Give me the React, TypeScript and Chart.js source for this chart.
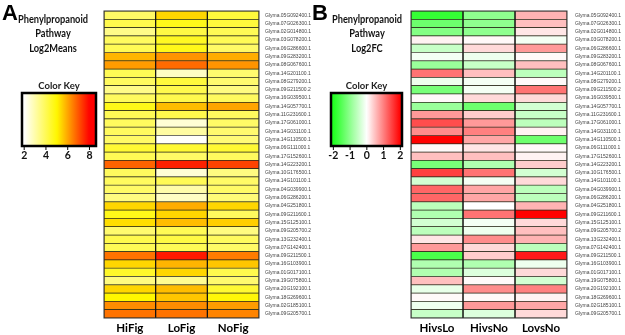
import React, { useEffect, useRef } from 'react';
import { Chart, registerables } from 'chart.js';
Chart.register(...registerables);

const genes = [
  'Glyma.05G092400.1', 'Glyma.07G026300.1', 'Glyma.02G014800.1', 'Glyma.03G078200.1',
  'Glyma.06G286600.1', 'Glyma.09G283200.1', 'Glyma.08G067600.1', 'Glyma.14G201100.1',
  'Glyma.08G279200.1', 'Glyma.09G211500.2', 'Glyma.16G039500.1', 'Glyma.14G057700.1',
  'Glyma.11G231600.1', 'Glyma.17G061000.1', 'Glyma.14G031100.1', 'Glyma.14G110500.1',
  'Glyma.06G111000.1', 'Glyma.17G152600.1', 'Glyma.14G223200.1', 'Glyma.10G176500.1',
  'Glyma.14G101100.1', 'Glyma.04G039900.1', 'Glyma.06G286200.1', 'Glyma.04G251800.1',
  'Glyma.09G211600.1', 'Glyma.15G125100.1', 'Glyma.09G205700.2', 'Glyma.13G232400.1',
  'Glyma.07G142400.1', 'Glyma.09G211500.1', 'Glyma.16G103900.1', 'Glyma.01G017100.1',
  'Glyma.19G075800.1', 'Glyma.20G192100.1', 'Glyma.18G269600.1', 'Glyma.02G185100.1',
  'Glyma.09G205700.1',
];

const colsA = ['HiFig', 'LoFig', 'NoFig'];
const hiFig = [3.8, 4.1, 3.4, 3.9, 4.0, 5.8, 6.1, 4.0, 3.9, 3.4, 3.9, 4.7, 4.0, 3.9, 3.9, 3.8, 4.4, 4.0, 6.8, 3.9, 3.9, 3.8, 3.5, 5.4, 4.7, 5.3, 3.7, 4.1, 4.0, 6.6, 5.4, 4.5, 3.5, 5.4, 5.0, 6.3, 6.6];
const loFig = [5.4, 4.7, 4.2, 4.6, 4.7, 6.2, 6.7, 2.7, 4.3, 4.1, 4.1, 5.7, 4.1, 2.5, 3.1, 2.05, 4.4, 3.8, 7.6, 2.5, 4.0, 3.0, 2.7, 5.9, 5.4, 5.7, 4.0, 4.2, 4.0, 7.7, 5.8, 5.4, 3.3, 5.7, 5.6, 6.3, 6.6];
const noFig = [4.3, 4.3, 4.0, 4.0, 3.8, 5.9, 6.2, 3.7, 3.7, 3.5, 3.9, 6.0, 3.9, 3.8, 3.7, 3.6, 4.4, 3.9, 7.2, 3.5, 3.8, 3.8, 3.6, 5.4, 3.9, 5.5, 3.5, 3.9, 3.8, 6.5, 5.6, 4.1, 3.7, 4.4, 4.9, 6.1, 6.4];

const colsB = ['HivsLo', 'HivsNo', 'LovsNo'];
const hivsLo = [-1.8, -1.3, -1.1, 0.1, -0.5, -0.1, -0.9, 1.1, -0.15, -1.2, 0.05, -0.9, 0.8, 1.4, 0.9, 2.0, 0.05, 0.5, -1.2, 1.5, -0.4, 1.2, 1.2, -0.6, -0.7, -0.4, -0.6, 0.2, 0.8, -1.6, -0.7, -0.7, 0.5, -0.2, 0.05, -0.15, -0.5];
const hivsNo = [-1.0, -1.0, -1.0, 0.05, 0.3, -0.15, -0.5, 0.5, -0.1, -0.1, 0.3, -1.3, 0.4, 0.8, 1.0, 0.7, 0.2, 0.5, -0.7, 1.1, -0.1, 0.7, 0.7, 0.0, 1.1, -0.1, -0.15, 0.9, 0.3, 0.4, -0.7, -0.3, 0.05, 0.9, 0.05, 0.8, -0.3];
const lovsNo = [0.6, 0.5, 0.2, -0.1, 0.8, 0.05, 0.5, -0.6, 0.05, 1.1, 0.3, -0.4, -0.5, -0.6, 0.1, -1.3, 0.05, 0.1, 0.4, -0.4, 0.3, -0.6, -0.6, 0.6, 2.0, 0.3, 0.5, 0.6, -0.6, 1.8, -0.15, 0.3, -0.4, 1.0, 0.1, 0.7, 0.3];

const keyTicksA = [2, 4, 6, 8];
const keyTicksB = [-2, -1, 0, 1, 2];
const titleA = ['Phenylpropanoid', 'Pathway', 'Log2Means'];
const titleB = ['Phenylpropanoid', 'Pathway', 'Log2FC'];

const clamp = (x: number, a: number, b: number) => Math.max(a, Math.min(b, x));

function colorA(v: number): string {
  if (v <= 5) {
    const f = clamp((v - 2) / 3, 0, 1);
    return `rgb(255,${Math.round(255 - 8 * f)},${Math.round(255 * (1 - f))})`;
  }
  const f = clamp((v - 5) / 3, 0, 1);
  return `rgb(255,${Math.round(247 * (1 - f))},0)`;
}

function colorB(v: number): string {
  if (v < 0) {
    const f = clamp(-v / 2, 0, 1);
    const c = Math.round(255 * (1 - f * 0.88));
    return `rgb(${c},255,${c})`;
  }
  const f = clamp(v / 2, 0, 1);
  const c = Math.round(255 * (1 - f));
  return `rgb(255,${c},${c})`;
}

type PanelProps = {
  left: number;
  width: number;
  values: number[][];
  cols: string[];
  colorFn: (v: number) => string;
  letter: string;
  title: string[];
  keyTicks: number[];
  keyRange: [number, number];
  areaLeft: number;
  areaRight: number;
  areaTop: number;
  areaBottom: number;
  labelPad: number;
  cx: number;
  keyBox: [number, number, number, number];
};

function Panel(p: PanelProps) {
  const ref = useRef<HTMLCanvasElement>(null);
  useEffect(() => {
    const canvas = ref.current!;
    const H = 335;
    const decor = {
      id: 'decor',
      afterDatasetsDraw(chart: any) {
        const ctx = chart.ctx as CanvasRenderingContext2D;
        const xs = chart.scales.x;
        const { top, bottom, left, right } = chart.chartArea;
        ctx.save();
        ctx.strokeStyle = '#111';
        ctx.lineWidth = 1.2;
        for (let i = 1; i < p.cols.length; i++) {
          const x = xs.getPixelForValue(i);
          ctx.beginPath();
          ctx.moveTo(x, top);
          ctx.lineTo(x, bottom);
          ctx.stroke();
        }
        ctx.lineWidth = 1;
        ctx.strokeStyle = '#333';
        ctx.strokeRect(left, top, right - left, bottom - top);
        ctx.restore();
      },
      afterDraw(chart: any) {
        const ctx = chart.ctx as CanvasRenderingContext2D;
        ctx.save();
        ctx.fillStyle = '#000';
        ctx.textBaseline = 'alphabetic';
        ctx.textAlign = 'left';
        ctx.font = 'bold 22px "Liberation Sans", Arial, sans-serif';
        ctx.fillText(p.letter, 2, 20);
        ctx.textAlign = 'center';
        ctx.textBaseline = 'middle';
        ctx.font = 'bold 11px Lato, sans-serif';
        ctx.fillStyle = '#111';
        p.title.forEach((t, i) => {
          const w = ctx.measureText(t).width;
          ctx.fillText(t, p.cx, 19 + i * 14.5, w * 0.84);
        });
        ctx.font = 'bold 10px Lato, sans-serif';
        ctx.fillStyle = '#222';
        const [bx0, by0, bx1, by1] = p.keyBox;
        const ck = 'Color Key';
        ctx.fillText(ck, (bx0 + bx1) / 2, 86, ctx.measureText(ck).width * 0.95);
        const [kmin, kmax] = p.keyRange;
        const toX = (v: number) => bx0 + ((v - kmin) / (kmax - kmin)) * (bx1 - bx0);
        const g = ctx.createLinearGradient(bx0, 0, bx1, 0);
        for (let i = 0; i <= 40; i++) {
          const v = kmin + (i / 40) * (kmax - kmin);
          g.addColorStop(i / 40, p.colorFn(v));
        }
        ctx.fillStyle = g;
        ctx.fillRect(bx0, by0, bx1 - bx0, by1 - by0);
        ctx.strokeStyle = '#000';
        ctx.lineWidth = 2.5;
        ctx.strokeRect(bx0, by0, bx1 - bx0, by1 - by0);
        ctx.lineWidth = 1;
        ctx.font = 'bold 10.5px Lato, sans-serif';
        ctx.fillStyle = '#111';
        p.keyTicks.forEach((t) => {
          const x = toX(t);
          ctx.beginPath();
          ctx.moveTo(x, by1 + 1);
          ctx.lineTo(x, by1 + 4);
          ctx.stroke();
          ctx.fillText(String(t), x, by1 + 10);
        });
        ctx.restore();
      },
    };
    const chart = new Chart(canvas, {
      type: 'bar',
      data: {
        labels: genes,
        datasets: p.cols.map((c, ci) => ({
          label: c,
          data: genes.map(() => [ci, ci + 1]) as any,
          backgroundColor: p.values[ci].map(p.colorFn),
          borderColor: '#2a2a1a',
          borderWidth: 0.7,
          borderSkipped: false,
          grouped: false,
          barPercentage: 1,
          categoryPercentage: 1,
        })) as any,
      },
      options: {
        indexAxis: 'y',
        animation: false,
        responsive: false,
        maintainAspectRatio: false,
        layout: { padding: { left: p.areaLeft, top: p.areaTop, right: 0, bottom: 0 } },
        plugins: { legend: { display: false }, tooltip: { enabled: false } },
        scales: {
          x: {
            type: 'linear',
            min: 0,
            max: p.cols.length,
            grid: { display: false, drawTicks: false },
            border: { display: false },
            afterBuildTicks: (s: any) => {
              s.ticks = p.cols.map((_, i) => ({ value: i + 0.5 }));
            },
            afterFit: (s: any) => {
              s.height = H - p.areaBottom;
            },
            ticks: {
              autoSkip: false,
              maxRotation: 0,
              padding: 3,
              color: '#000',
              font: { family: 'Lato, sans-serif', size: 11.5, weight: 'bold' },
              callback: (v: any) => p.cols[Math.floor(Number(v))],
            },
          },
          y: {
            type: 'category',
            position: 'right',
            grid: { display: false, drawTicks: false },
            border: { display: false },
            afterFit: (s: any) => {
              s.width = p.width - p.areaRight;
            },
            ticks: {
              autoSkip: false,
              padding: p.labelPad,
              color: '#444',
              font: { family: '"Liberation Sans", Arial, sans-serif', size: 5 },
            },
          },
        },
      } as any,
      plugins: [decor],
    });
    return () => chart.destroy();
  }, []);
  return (
    <canvas
      ref={ref}
      width={p.width}
      height={335}
      style={{ position: 'absolute', left: p.left, top: 0, width: p.width, height: 335, display: 'block' }}
    />
  );
}

export default function App() {
  return (
    <div style={{ position: 'fixed', left: 0, top: 0, width: 625, height: 335, background: '#fff', overflow: 'hidden' }}>
      <Panel
        left={0}
        width={316}
        values={[hiFig, loFig, noFig]}
        cols={colsA}
        colorFn={colorA}
        letter="A"
        title={titleA}
        keyTicks={keyTicksA}
        keyRange={[1.8, 8.6]}
        areaLeft={104}
        areaRight={259}
        areaTop={11}
        areaBottom={318}
        labelPad={6}
        cx={53}
        keyBox={[22, 93, 96, 146]}
      />
      <Panel
        left={310}
        width={315}
        values={[hivsLo, hivsNo, lovsNo]}
        cols={colsB}
        colorFn={colorB}
        letter="B"
        title={titleB}
        keyTicks={keyTicksB}
        keyRange={[-2.14, 2.1]}
        areaLeft={101}
        areaRight={257}
        areaTop={11}
        areaBottom={318}
        labelPad={8}
        cx={57}
        keyBox={[21, 93, 92, 146]}
      />
    </div>
  );
}
